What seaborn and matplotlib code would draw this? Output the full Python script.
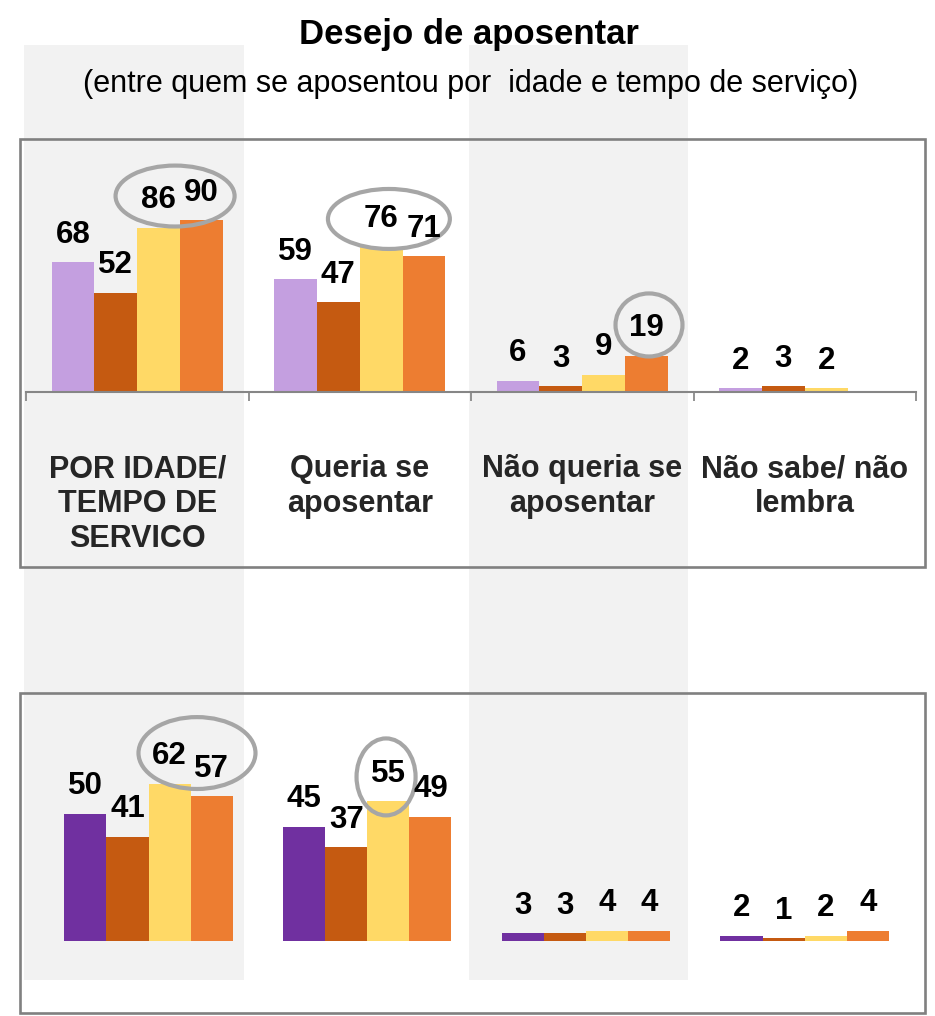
import matplotlib
matplotlib.use("Agg")
import matplotlib.pyplot as plt
from matplotlib.patches import Rectangle, Ellipse
import numpy as np
import pandas as pd
import seaborn as sns

# ---------------- data ----------------
categories = ["POR IDADE/\nTEMPO DE\nSERVICO", "Queria se\naposentar",
              "Não queria se\naposentar", "Não sabe/ não\nlembra"]
series = ["Série 1", "Série 2", "Série 3", "Série 4"]

top_s1 = [68, 59, 6, 2]
top_s2 = [52, 47, 3, 3]
top_s3 = [86, 76, 9, 2]
top_s4 = [90, 71, 19, np.nan]

bottom_s1 = [50, 45, 3, 2]
bottom_s2 = [41, 37, 3, 1]
bottom_s3 = [62, 55, 4, 2]
bottom_s4 = [57, 49, 4, 4]

top_colors = ["#C49FE0", "#C55A11", "#FFD966", "#ED7D31"]
bottom_colors = ["#7030A0", "#C55A11", "#FFD966", "#ED7D31"]

title = "Desejo de aposentar"
subtitle = "(entre quem se aposentou por  idade e tempo de serviço)"


def long_df(cols):
    rows = []
    for s, vals in zip(series, cols):
        for c, v in zip(categories, vals):
            rows.append({"categoria": c, "serie": s, "valor": v})
    return pd.DataFrame(rows)


df_top = long_df([top_s1, top_s2, top_s3, top_s4])
df_bot = long_df([bottom_s1, bottom_s2, bottom_s3, bottom_s4])

# ---------------- style ----------------
sns.set_theme(style="white")
plt.rcParams["font.family"] = ["Liberation Sans", "DejaVu Sans"]

W, H = 935, 1016
fig = plt.figure(figsize=(W / 100, H / 100), dpi=100)
fig.patch.set_facecolor("white")


def fx(px):
    return px / W


def fy(py):
    return 1 - py / H


# gray background bands
for x0, x1 in [(24, 244), (469, 688)]:
    fig.patches.append(Rectangle((fx(x0), fy(980)), (x1 - x0) / W, (980 - 45) / H,
                                 transform=fig.transFigure, facecolor="#F2F2F2",
                                 edgecolor="none", zorder=-2))
# frames
for y0, y1 in [(139, 567), (693, 1013)]:
    fig.patches.append(Rectangle((fx(20), fy(y1)), (925 - 20) / W, (y1 - y0) / H,
                                 transform=fig.transFigure, fill=False,
                                 edgecolor="#808080", linewidth=1.9, zorder=-1))

ax_top = fig.add_axes([fx(26), fy(392), (916 - 26) / W, (392 - 140) / H])
ax_bot = fig.add_axes([fx(39.2), fy(941), (914 - 39.2) / W, (941 - 700) / H])

for ax, df, pal, ytop in [(ax_top, df_top, top_colors, 252 / 1.91),
                          (ax_bot, df_bot, bottom_colors, 241 / 2.54)]:
    ax.set_facecolor("none")
    sns.barplot(data=df, x="categoria", y="valor", hue="serie", order=categories,
                hue_order=series, palette=pal, saturation=1, width=0.77, gap=0,
                errorbar=None, linewidth=0, legend=False, ax=ax)
    ax.set_xlim(-0.5, 3.5)
    ax.set_ylim(0, ytop)
    ax.set_xlabel("")
    ax.set_ylabel("")
    ax.set_yticks([])
    for sp in ["top", "left", "right"]:
        ax.spines[sp].set_visible(False)
    for cont in ax.containers:
        labels = ["" if np.isnan(v) else f"{v:.0f}" for v in cont.datavalues]
        ax.bar_label(cont, labels=labels, padding=9, fontsize=22.5,
                     fontweight="bold", color="black")

# top axis: category labels + boundary ticks
ax_top.set_xticks(range(len(categories)))
ax_top.set_xticklabels(categories, fontsize=22, fontweight="bold", linespacing=1.2)
ax_top.tick_params(axis="x", which="major", length=0, pad=45)
ax_top.set_xticks(np.arange(-0.5, 4, 1.0), minor=True)
ax_top.tick_params(axis="x", which="minor", length=6.5, width=1.2,
                   color="#808080", direction="out", bottom=True)
ax_top.spines["bottom"].set_color("#868686")
ax_top.spines["bottom"].set_linewidth(1.5)

# bottom axis: nothing
ax_bot.spines["bottom"].set_visible(False)
ax_bot.set_xticks([])

# highlight ellipses
ell_kw = dict(fill=False, edgecolor="#A6A6A6", linewidth=3, zorder=2.5, clip_on=False)
ax_top.add_patch(Ellipse((0.17, 102.6), 0.535, 31.9, **ell_kw))
ax_top.add_patch(Ellipse((1.131, 90.6), 0.548, 31.4, **ell_kw))
ax_top.add_patch(Ellipse((2.30, 35.1), 0.301, 33.0, **ell_kw))
ax_bot.add_patch(Ellipse((0.2215, 74.0), 0.535, 28.3, **ell_kw))
ax_bot.add_patch(Ellipse((1.086, 64.6), 0.27, 30.3, **ell_kw))

# titles
fig.text(fx(469), fy(44), title, ha="center", va="baseline", fontsize=25,
         fontweight="bold", color="black")
fig.text(fx(471), fy(92), subtitle, ha="center", va="baseline", fontsize=22,
         color="black")

fig.savefig("out.png", dpi=100)
